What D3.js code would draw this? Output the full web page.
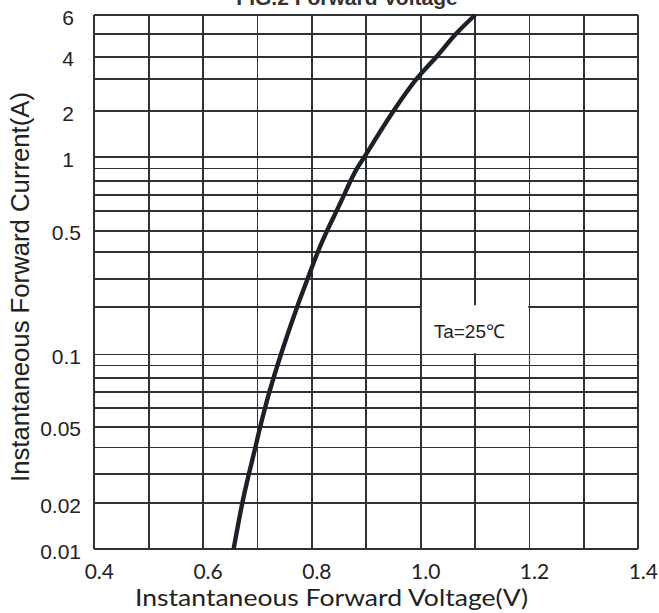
<!DOCTYPE html>
<html>
<head>
<meta charset="utf-8">
<script src="https://cdn.jsdelivr.net/npm/d3@7"></script>
<style>
  html, body { margin: 0; padding: 0; background: #fff; }
  svg { display: block; }
</style>
</head>
<body>
<svg id="chart" width="659" height="613"></svg>
<script>
// curve: forward voltage (V) vs current (A)
const voltage = [0.656, 0.672, 0.684, 0.696, 0.705, 0.714, 0.722, 0.743, 0.773, 0.792, 0.811, 0.828, 0.845, 0.859, 0.871, 0.883, 0.896, 0.950, 0.992, 1.029, 1.065, 1.100];
const current = [0.01, 0.02, 0.03, 0.04, 0.05, 0.06, 0.07, 0.1, 0.2, 0.3, 0.4, 0.5, 0.6, 0.7, 0.8, 0.9, 1, 2, 3, 4, 5, 6];

// grid + tick labels
const xGrid = [0.4, 0.5, 0.6, 0.7, 0.8, 0.9, 1.0, 1.1, 1.2, 1.3, 1.4];
const xLabels = [0.4, 0.6, 0.8, 1.0, 1.2, 1.4];
const yGrid = [0.01, 0.02, 0.03, 0.04, 0.05, 0.06, 0.07, 0.08, 0.09,
               0.1, 0.2, 0.3, 0.4, 0.5, 0.6, 0.7, 0.8, 0.9,
               1, 2, 3, 4, 5, 6];
const yLabels = [0.01, 0.02, 0.05, 0.1, 0.5, 1, 2, 4, 6];

const svg = d3.select("#chart");
const plotL = 94.3, plotR = 638.3, plotT = 15, plotB = 549.3;

const x = d3.scaleLinear().domain([0.4, 1.4]).range([plotL, plotR]);
// the printed grid is not a clean log grid, so the log scale is calibrated piecewise
const y = d3.scaleLog()
  .domain([0.01, 0.02, 0.03, 0.05, 0.1, 0.2, 0.3, 0.5, 1, 2, 4, 6])
  .range([plotB, 503.3, 474.3, 426.7, 354.5, 306.7, 279, 230.7, 157.3, 111, 56.7, plotT]);

const gridColor = "#2f3134";

// title, mostly cut off by the top edge
svg.append("text")
  .attr("x", 347).attr("y", 5)
  .attr("text-anchor", "middle")
  .attr("font-family", "Liberation Sans, Arial, sans-serif")
  .attr("font-weight", "bold")
  .attr("font-size", 21)
  .attr("fill", "#333")
  .text("FIG.2 Forward Voltage");

const grid = svg.append("g")
  .attr("stroke", gridColor)
  .attr("stroke-width", 1.9)
  .attr("shape-rendering", "crispEdges");

grid.selectAll("line.h")
  .data(yGrid)
  .join("line")
  .attr("class", "h")
  .attr("x1", plotL).attr("x2", plotR)
  .attr("y1", d => y(d)).attr("y2", d => y(d));

grid.selectAll("line.v")
  .data(xGrid)
  .join("line")
  .attr("class", "v")
  .attr("x1", d => x(d)).attr("x2", d => x(d))
  .attr("y1", plotT).attr("y2", plotB);

// the Ta label sits in a blanked-out cell
svg.append("rect")
  .attr("x", x(1.0) + 1.2)
  .attr("y", y(0.2) - 1.5)
  .attr("width", x(1.2) - x(1.0) - 2.4)
  .attr("height", y(0.1) - y(0.2) + 0.3)
  .attr("fill", "#fff");

svg.append("text")
  .attr("x", x(1.0) + 13)
  .attr("y", 338)
  .attr("font-family", "Liberation Sans, Arial, sans-serif")
  .attr("font-size", 19)
  .attr("fill", "#222")
  .text("Ta=25℃");

// curve
const pts = voltage.map((v, i) => [v, current[i]]);
svg.append("path")
  .datum(pts)
  .attr("fill", "none")
  .attr("stroke", "#1c2128")
  .attr("stroke-width", 4.4)
  .attr("stroke-linejoin", "round")
  .attr("d", d3.line()
    .x(d => x(d[0]))
    .y(d => y(d[1]))
    .curve(d3.curveCatmullRom.alpha(0.5)));

// y tick labels
svg.append("g")
  .attr("font-family", "Liberation Sans, Arial, sans-serif")
  .attr("font-size", 21)
  .attr("fill", "#222")
  .attr("text-anchor", "end")
  .selectAll("text")
  .data(yLabels)
  .join("text")
  .attr("x", d => d >= 1 ? 74 : 81)
  .attr("y", d => y(d) + 9.5)
  .text(d => d);

// x tick labels
svg.append("g")
  .attr("font-family", "Lato, Open Sans, sans-serif")
  .attr("font-size", 21)
  .attr("fill", "#222")
  .attr("text-anchor", "middle")
  .selectAll("text")
  .data(xLabels)
  .join("text")
  .attr("x", d => x(d) + 5)
  .attr("y", 578.5)
  .text(d => d3.format(".1f")(d));

// axis titles
svg.append("text")
  .attr("x", 331.5).attr("y", 605.5)
  .attr("text-anchor", "middle")
  .attr("font-family", "Lato, Open Sans, sans-serif")
  .attr("font-size", 23)
  .attr("fill", "#222")
  .attr("textLength", 393)
  .attr("lengthAdjust", "spacingAndGlyphs")
  .text("Instantaneous Forward Voltage(V)");

svg.append("text")
  .attr("transform", "translate(29,287) rotate(-90)")
  .attr("text-anchor", "middle")
  .attr("font-family", "Liberation Sans, Arial, sans-serif")
  .attr("font-size", 25.5)
  .attr("fill", "#222")
  .attr("textLength", 390)
  .attr("lengthAdjust", "spacingAndGlyphs")
  .text("Instantaneous Forward Current(A)");
</script>
</body>
</html>
